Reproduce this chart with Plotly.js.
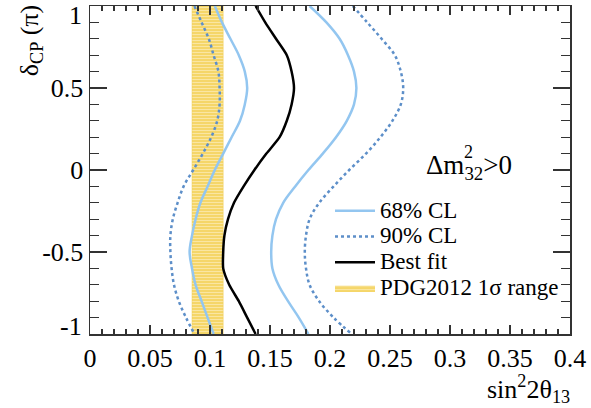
<!DOCTYPE html>
<html>
<head>
<meta charset="utf-8">
<script src="https://cdn.plot.ly/plotly-3.0.1.min.js"></script>
<style>html,body{margin:0;padding:0;background:#fff;}#chart{width:591px;height:408px;}</style>
</head>
<body>
<div id="chart"></div>
<script>
// delta_CP values (units of pi)
const deltaCP = [1.0, 0.9, 0.8, 0.7, 0.6, 0.5, 0.4, 0.3, 0.2, 0.1, 0.0,
                 -0.1, -0.2, -0.3, -0.4, -0.5, -0.6, -0.7, -0.8, -0.9, -1.0];
// sin^2 2theta13 values
const cl68Left  = [0.104, 0.110, 0.117, 0.124, 0.129, 0.131, 0.129, 0.125, 0.118, 0.111, 0.104,
                   0.098, 0.092, 0.088, 0.085, 0.083, 0.085, 0.088, 0.093, 0.098, 0.103];
const cl68Right = [0.183, 0.197, 0.208, 0.215, 0.220, 0.222, 0.220, 0.214, 0.205, 0.194, 0.182,
                   0.171, 0.161, 0.155, 0.152, 0.151, 0.152, 0.157, 0.165, 0.174, 0.182];
const cl90Left  = [0.087, 0.093, 0.099, 0.103, 0.107, 0.108, 0.108, 0.106, 0.101, 0.094, 0.086,
                   0.078, 0.073, 0.069, 0.067, 0.067, 0.068, 0.070, 0.074, 0.080, 0.087];
const cl90Right = [0.219, 0.231, 0.243, 0.254, 0.259, 0.261, 0.259, 0.252, 0.242, 0.230, 0.216,
                   0.203, 0.191, 0.183, 0.180, 0.179, 0.180, 0.183, 0.191, 0.203, 0.218];
const bestFit   = [0.138, 0.146, 0.155, 0.164, 0.168, 0.170, 0.168, 0.164, 0.158, 0.147, 0.137,
                   0.128, 0.120, 0.115, 0.112, 0.111, 0.111, 0.116, 0.124, 0.131, 0.138];
// PDG2012 1 sigma range
const pdgRange = [0.085, 0.111];
const deltaRange = [-1, 1];
const legendNames = ['68% CL', '90% CL', 'Best fit', 'PDG2012 1σ range'];

const serif = 'Liberation Serif, Times New Roman, serif';
const c68 = '#93c6f0';
const c90 = '#5d8fc9';
const lg = (s) => '<span style="font-size:23px">' + s + '</span>';

const traces = [
  {x: [pdgRange[0], pdgRange[1], pdgRange[1], pdgRange[0], pdgRange[0]],
   y: [deltaRange[0], deltaRange[0], deltaRange[1], deltaRange[1], deltaRange[0]],
   type: 'scatter', mode: 'lines', fill: 'toself', fillcolor: '#f5d669',
   fillpattern: {shape: '-', bgcolor: '#f5d669', fgcolor: '#fbe8a8', size: 3, solidity: 0.3},
   line: {color: '#efcd55', width: 0.5}, name: lg(legendNames[3]), legendrank: 4},
  {x: cl68Left, y: deltaCP, type: 'scatter', mode: 'lines', line: {color: c68, width: 2.5, shape: 'spline', smoothing: 1},
   name: lg(legendNames[0]), legendgroup: 'a', legendrank: 1},
  {x: cl68Right, y: deltaCP, type: 'scatter', mode: 'lines', line: {color: c68, width: 2.5, shape: 'spline', smoothing: 1},
   name: lg(legendNames[0]), legendgroup: 'a', showlegend: false},
  {x: cl90Left, y: deltaCP, type: 'scatter', mode: 'lines', line: {color: c90, width: 2.5, dash: 'dot', shape: 'spline', smoothing: 1},
   name: lg(legendNames[1]), legendgroup: 'b', legendrank: 2},
  {x: cl90Right, y: deltaCP, type: 'scatter', mode: 'lines', line: {color: c90, width: 2.5, dash: 'dot', shape: 'spline', smoothing: 1},
   name: lg(legendNames[1]), legendgroup: 'b', showlegend: false},
  {x: bestFit, y: deltaCP, type: 'scatter', mode: 'lines', line: {color: '#000', width: 2.5, shape: 'spline', smoothing: 0.6},
   name: lg(legendNames[2]), legendrank: 3}
];

const layout = {
  width: 591, height: 408,
  margin: {l: 90, r: 21, t: 6, b: 74},
  paper_bgcolor: '#fff', plot_bgcolor: '#fff',
  font: {family: serif, size: 26, color: '#000'},
  showlegend: true,
  legend: {x: 0.5, y: 0.43, xanchor: 'left', yanchor: 'top', bgcolor: 'rgba(0,0,0,0)',
           font: {family: serif, size: 17.5, color: '#000'}, tracegroupgap: 0, itemwidth: 40},
  xaxis: {range: [0, 0.4], dtick: 0.05, tick0: 0, ticks: 'inside', ticklen: 9, tickwidth: 1.2,
          tickcolor: '#333', showline: true, linecolor: '#333', linewidth: 1.5, mirror: 'ticks',
          showgrid: false, zeroline: false,
          minor: {dtick: 0.01, tick0: 0, ticks: 'inside', ticklen: 5, tickcolor: '#333', tickwidth: 1.2, showgrid: false},
          tickfont: {family: serif, size: 26, color: '#000'}},
  yaxis: {range: [-1, 1], tickvals: [-1, -0.5, 0, 0.5, 1], ticktext: ['', '-0.5', '0', '0.5', ''],
          ticks: 'inside', ticklen: 17, tickwidth: 1.2,
          tickcolor: '#333', showline: true, linecolor: '#333', linewidth: 1.5, mirror: 'ticks',
          showgrid: false, zeroline: false,
          minor: {dtick: 0.1, tick0: 0, ticks: 'inside', ticklen: 9, tickcolor: '#333', tickwidth: 1.2, showgrid: false},
          tickfont: {family: serif, size: 26, color: '#000'}},
  annotations: [
    {text: '1', xref: 'paper', yref: 'y', x: 0, y: 1, xanchor: 'right', yanchor: 'middle',
     xshift: -6, yshift: -9, showarrow: false, font: {family: serif, size: 26}},
    {text: '-1', xref: 'paper', yref: 'y', x: 0, y: -1, xanchor: 'right', yanchor: 'middle',
     xshift: -6, yshift: 8, showarrow: false, font: {family: serif, size: 26}},
    {text: 'sin<sup>2</sup>2θ<sub>13</sub>', xref: 'paper', yref: 'paper', x: 1.005, y: -0.168,
     xanchor: 'right', yanchor: 'middle', showarrow: false, font: {family: serif, size: 26}},
    {text: 'δ<sub>CP</sub> (π)', xref: 'paper', yref: 'paper', x: -0.123, y: 1.01, textangle: -90,
     xanchor: 'center', yanchor: 'top', showarrow: false, font: {family: serif, size: 26}},
    {text: 'Δm<sub>32</sub>>0', xref: 'paper', yref: 'paper', x: 0.696, y: 0.51,
     xanchor: 'left', yanchor: 'middle', showarrow: false, font: {family: serif, size: 27}},
    {text: '2', xref: 'paper', yref: 'paper', x: 0.776, y: 0.555,
     xanchor: 'left', yanchor: 'middle', showarrow: false, font: {family: serif, size: 18}}
  ]
};

Plotly.newPlot('chart', traces, layout, {displayModeBar: false, staticPlot: true});
</script>
</body>
</html>
